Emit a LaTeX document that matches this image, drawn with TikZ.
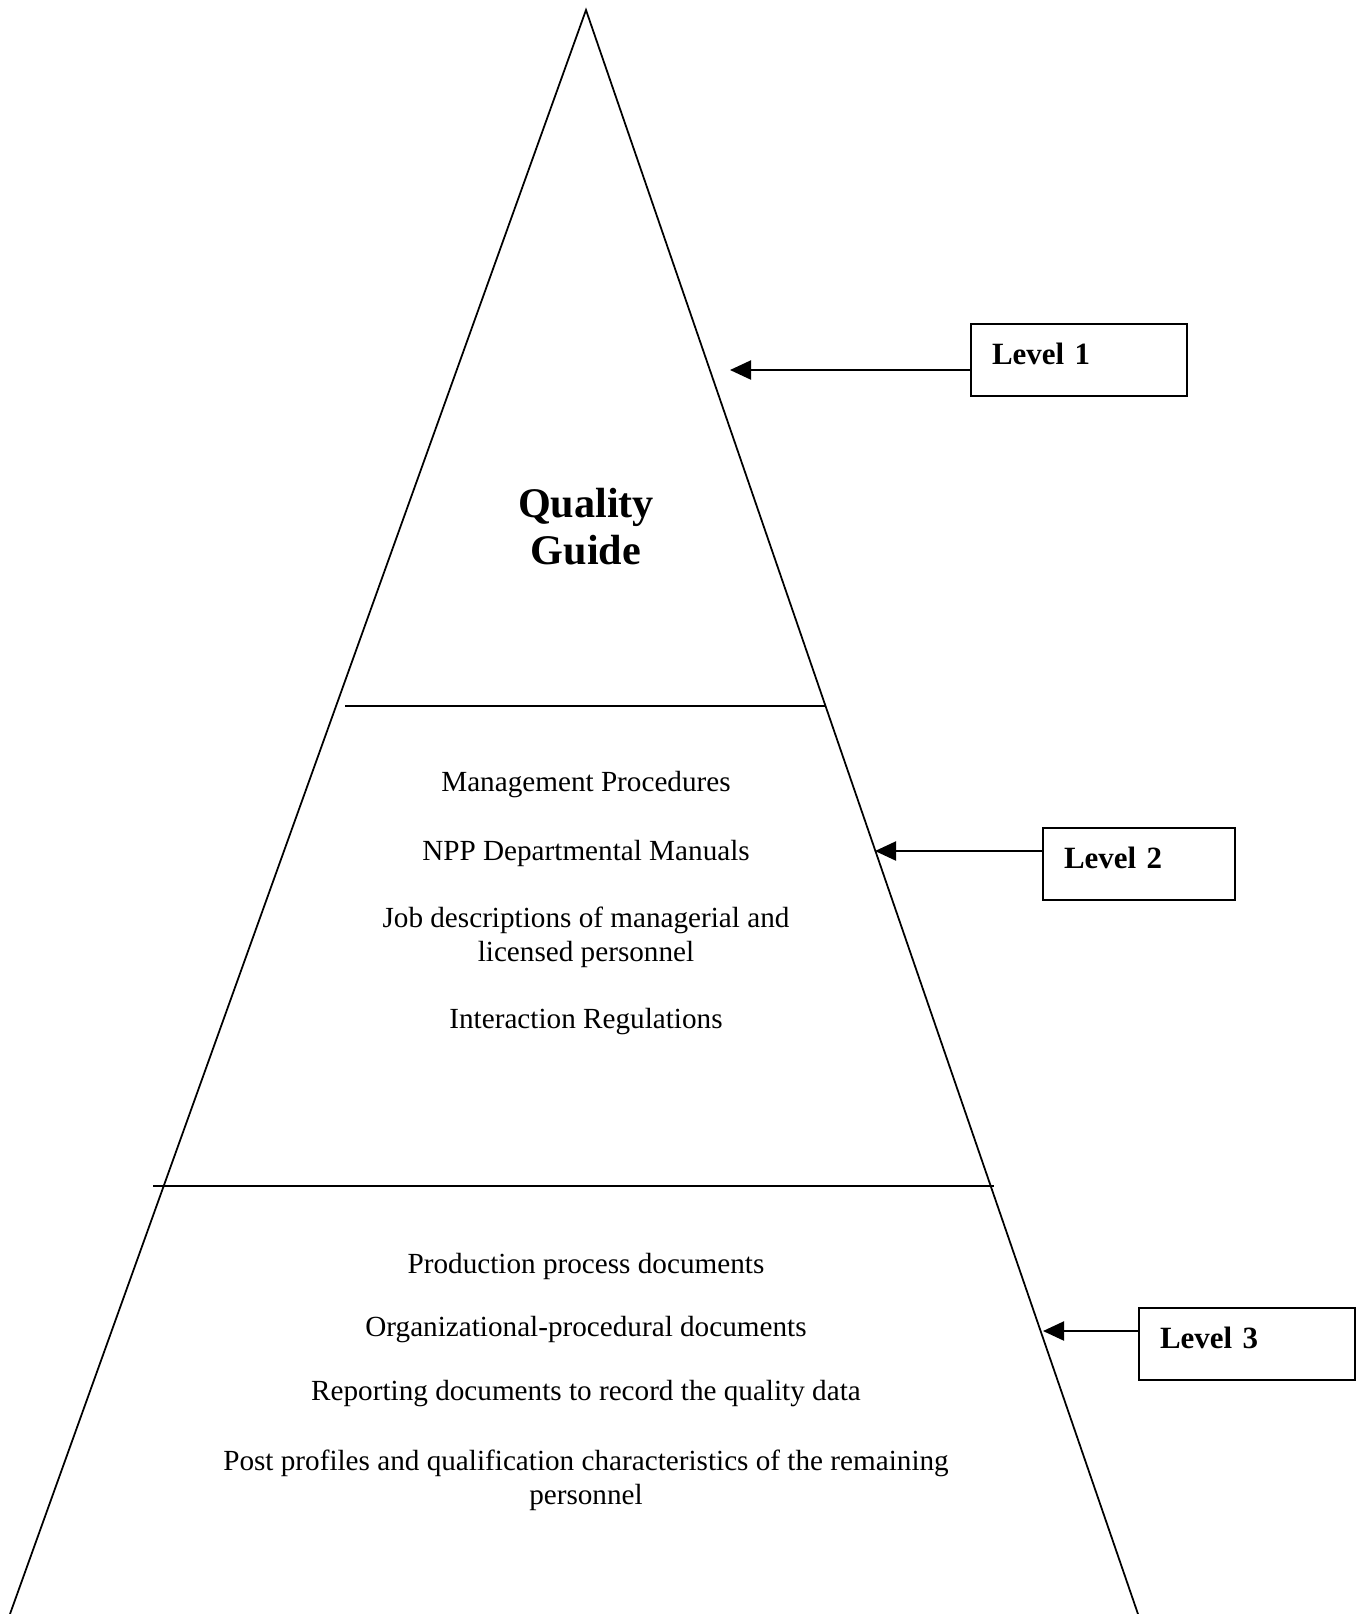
\documentclass[tikz,border=0pt]{standalone}
\usepackage{fontspec}
\setmainfont{Liberation Serif}
\usetikzlibrary{arrows.meta}

\begin{document}
\begin{tikzpicture}[x=0.01cm, y=-0.01cm, >={Triangle[length=0.21cm, width=0.19cm]},
  item/.style={align=center, inner sep=0pt, font=\fontsize{8.3}{9.7}\selectfont},
  levelbox/.style={draw, line width=0.6pt, anchor=north west, minimum height=0.72cm,
    align=left, inner xsep=0.21cm, text depth=0.12cm, font=\fontsize{8.8}{10}\selectfont\bfseries}]
  \useasboundingbox (0,0) rectangle (1361,1614);

  % pyramid and its two cuts
  \coordinate (apex) at (586,10);
  \coordinate (bl) at (10,1614);
  \coordinate (br) at (1138,1614);
  \draw[line width=0.5pt] (bl) -- (apex) -- (br);
  \coordinate (cut1l) at (345,706);
  \coordinate (cut1r) at (826,706);
  \coordinate (cut2l) at (153,1186);
  \coordinate (cut2r) at (994,1186);
  \draw[line width=0.6pt] (cut1l) -- (cut1r);
  \draw[line width=0.6pt] (cut2l) -- (cut2r);

  % level 1
  \node[align=center, font=\fontsize{12}{13.4}\selectfont\bfseries] (guide) at (586,527) {Quality\\Guide};

  % level 2
  \node[item] (mgmt) at (586,785) {Management Procedures};
  \node[item] (manuals) at (586,853) {NPP Departmental Manuals};
  \node[item] (jobs) at (586,937) {Job descriptions of managerial and\\licensed personnel};
  \node[item] (regs) at (586,1022) {Interaction Regulations};

  % level 3
  \node[item] (prod) at (586,1266) {Production process documents};
  \node[item] (orgproc) at (586,1330) {Organizational-procedural documents};
  \node[item] (report) at (586,1394) {Reporting documents to record the quality data};
  \node[item] (posts) at (586,1480) {Post profiles and qualification characteristics of the remaining\\personnel};

  % level boxes and their arrows
  \node[levelbox, minimum width=2.16cm, text width=1.74cm] (lvl1) at (970,323) {Level 1};
  \node[levelbox, minimum width=1.92cm, text width=1.50cm] (lvl2) at (1042,827) {Level 2};
  \node[levelbox, minimum width=2.16cm, text width=1.74cm] (lvl3) at (1138,1307) {Level 3};
  \coordinate (tip1) at (730,370);
  \coordinate (tip2) at (875,851);
  \coordinate (tip3) at (1043,1331);
  \draw[->, line width=0.6pt] (tip1 -| lvl1.west) -- (tip1);
  \draw[->, line width=0.6pt] (tip2 -| lvl2.west) -- (tip2);
  \draw[->, line width=0.6pt] (tip3 -| lvl3.west) -- (tip3);
\end{tikzpicture}
\end{document}
